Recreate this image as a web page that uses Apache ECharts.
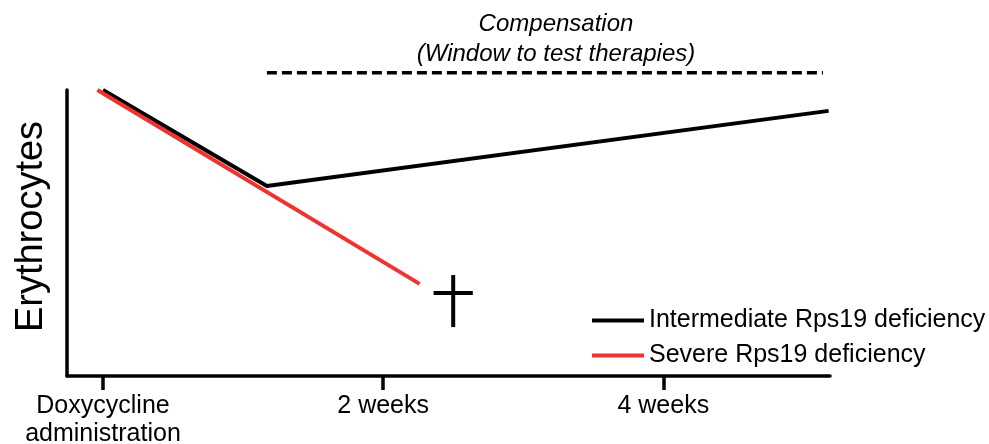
<!DOCTYPE html>
<html>
<head>
<meta charset="utf-8">
<script src="https://cdn.jsdelivr.net/npm/echarts@6/dist/echarts.min.js"></script>
<style>html,body{margin:0;padding:0;background:#fff;}#c{width:989px;height:444px;}</style>
</head>
<body>
<div id="c"></div>
<script>
// x in weeks, y in relative erythrocyte level (0-100)
const tickValues = [0, 2, 4];
const tickLabels = {0: 'Doxycycline\nadministration', 2: '2 weeks', 4: '4 weeks'};
const intermediate = [[0, 100], [1.17, 66.4], [5.18, 92.7]];
const severe = [[-0.04, 100], [2.26, 32.2]];
const compensationWindow = [[1.17, 106], [5.14, 106]];
const daggerVertical = [[2.5, 35.3], [2.5, 17.1]];
const daggerHorizontal = [[2.36, 29], [2.64, 29]];
const seriesNames = ['Intermediate Rps19 deficiency', 'Severe Rps19 deficiency'];

const FONT = '"Liberation Sans", Arial, sans-serif';
const RED = '#ec3530';
const chart = echarts.init(document.getElementById('c'));
chart.setOption({
  animation: false,
  backgroundColor: '#fff',
  textStyle: {fontFamily: FONT},
  title: {
    text: 'Compensation\n(Window to test therapies)',
    left: 551, top: 4, textAlign: 'center',
    textStyle: {fontFamily: FONT, fontStyle: 'italic', fontWeight: 'normal', fontSize: 24, lineHeight: 30, color: '#000'}
  },
  legend: {
    data: seriesNames,
    orient: 'vertical', left: 587, top: 303,
    itemWidth: 52, itemHeight: 4, itemGap: 10, icon: 'rect',
    textStyle: {fontFamily: FONT, fontSize: 25, color: '#000'}
  },
  grid: {left: 67, right: 159, top: 90, bottom: 68, outerBoundsMode: 'none', containLabel: false},
  xAxis: {
    type: 'value', min: -0.257, max: 5.19,
    splitLine: {show: false},
    axisLine: {onZero: false, lineStyle: {color: '#000', width: 3.5}},
    axisTick: {show: true, customValues: tickValues, length: 14, lineStyle: {color: '#000', width: 3.5}},
    axisLabel: {customValues: tickValues, formatter: v => tickLabels[v] || '', fontFamily: FONT, fontSize: 25, lineHeight: 28, color: '#000', margin: 16}
  },
  yAxis: {
    type: 'value', min: 0, max: 100,
    name: 'Erythrocytes', nameLocation: 'middle', nameGap: 16,
    nameTextStyle: {fontFamily: FONT, fontSize: 38, color: '#000', padding: [0, 0, 0, 13]},
    splitLine: {show: false},
    axisLine: {show: true, onZero: false, lineStyle: {color: '#000', width: 3.5}},
    axisTick: {show: false},
    axisLabel: {show: false}
  },
  series: [
    {name: seriesNames[1], type: 'line', data: severe, symbol: 'none', z: 3,
     lineStyle: {color: RED, width: 4}, itemStyle: {color: RED}},
    {name: seriesNames[0], type: 'line', data: intermediate, symbol: 'none', z: 2,
     lineStyle: {color: '#000', width: 4}, itemStyle: {color: '#000'}},
    {name: 'window', type: 'line', data: compensationWindow, symbol: 'none', clip: false,
     lineStyle: {color: '#000', width: 3.5, type: [10, 5]}},
    {name: 'dagger1', type: 'line', data: daggerVertical, symbol: 'none',
     lineStyle: {color: '#000', width: 4}},
    {name: 'dagger2', type: 'line', data: daggerHorizontal, symbol: 'none',
     lineStyle: {color: '#000', width: 4}}
  ]
});
</script>
</body>
</html>
